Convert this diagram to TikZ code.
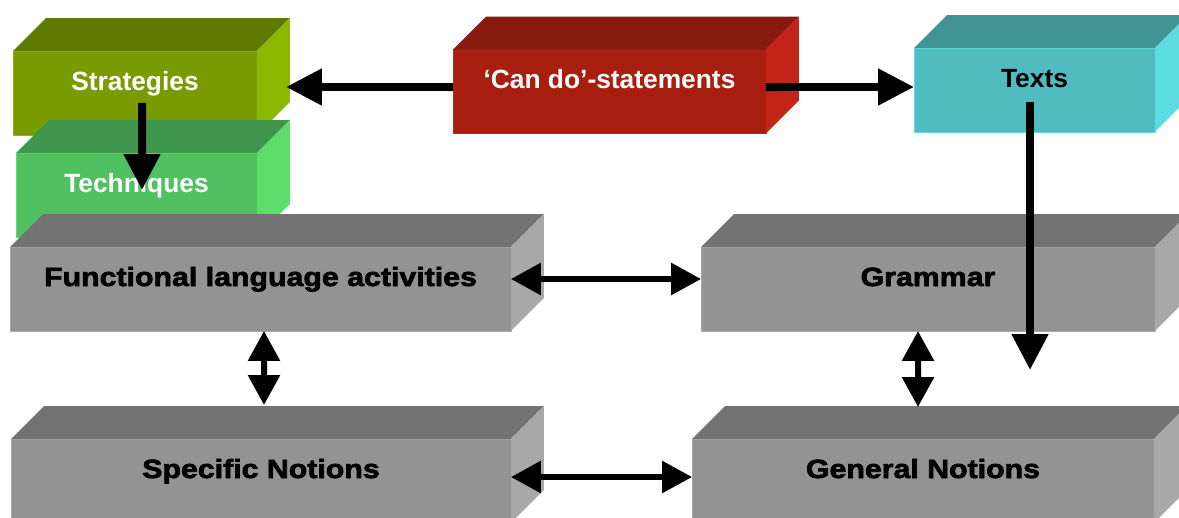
\documentclass[tikz,border=0pt]{standalone}
\usepackage{fontspec}
\setmainfont{Liberation Sans}
\newfontfamily\plainbold{Liberation Sans Bold}
\newfontfamily\heavyfont{Liberation Sans Bold}[FakeBold=2.5,FakeStretch=1.15]
\usetikzlibrary{arrows.meta}

% box colours: front, top, side
\definecolor{stratfront}{RGB}{120,155,0}
\definecolor{strattop}{RGB}{94,122,0}
\definecolor{stratside}{RGB}{140,184,0}
\definecolor{techfront}{RGB}{80,192,96}
\definecolor{techtop}{RGB}{63,149,75}
\definecolor{techside}{RGB}{93,221,108}
\definecolor{canfront}{RGB}{168,30,16}
\definecolor{cantop}{RGB}{134,26,14}
\definecolor{canside}{RGB}{196,36,23}
\definecolor{textfront}{RGB}{80,188,192}
\definecolor{texttop}{RGB}{64,148,148}
\definecolor{textside}{RGB}{92,221,224}
\definecolor{grayfront}{RGB}{147,147,147}
\definecolor{graytop}{RGB}{115,115,115}
\definecolor{grayside}{RGB}{168,168,168}

\tikzset{
	block/.style={rectangle, inner sep=0pt, outer sep=0pt, line width=0.5pt,
		minimum height=1.68cm, text height=0pt, text depth=0.12cm},
	colourblock/.style={block, font=\plainbold\fontsize{15}{15}\selectfont, text=white},
	grayblock/.style={block, fill=grayfront, draw=grayside,
		font=\heavyfont\fontsize{15}{15}\selectfont},
	bigarrow/.style={line width=0.16cm, -{Triangle[length=0.72cm,width=0.7cm]}},
	twoway/.style={line width=0.12cm,
		{Triangle[length=0.6cm,width=0.62cm]}-{Triangle[length=0.6cm,width=0.62cm]}}
}

% top and right face of a box node: #1 node, #2 top colour, #3 side colour
\newcommand{\Faces}[3]{
	\fill[#2] (#1.north west) -- ++(33,-33) -- ([shift={(33,-33)}]#1.north east) -- (#1.north east) -- cycle;
	\fill[#3] (#1.north east) -- ++(33,-33) -- ([shift={(33,-33)}]#1.south east) -- (#1.south east) -- cycle;
}

\begin{document}
\begin{tikzpicture}[x=0.02cm,y=-0.02cm]
	\clip (0,0) rectangle (1179,517);
	\fill[white] (0,0) rectangle (1179,517);

	% top row
	\node[colourblock, fill=stratfront, draw=stratside, minimum width=4.88cm] (strat) at (135,93) {Strategies};
	\Faces{strat}{strattop}{stratside}
	\node[colourblock, fill=techfront, draw=techside, minimum width=4.82cm] (tech) at (136.5,195) {Techniques};
	\Faces{tech}{techtop}{techside}
	\node[colourblock, fill=canfront, draw=canside, minimum width=6.26cm] (cando) at (609.5,91.5) {‘Can do’-statements};
	\Faces{cando}{cantop}{canside}
	\node[colourblock, fill=textfront, draw=textside, minimum width=4.82cm, text=black] (texts) at (1034.5,90) {Texts};
	\Faces{texts}{texttop}{textside}

	% middle row
	\node[grayblock, minimum width=10.02cm] (func) at (260.5,289) {Functional language activities};
	\Faces{func}{graytop}{grayside}
	\node[grayblock, minimum width=9.08cm] (gram) at (928,289) {Grammar};
	\Faces{gram}{graytop}{grayside}

	% bottom row
	\node[grayblock, minimum width=10cm] (spec) at (261,481) {Specific Notions};
	\Faces{spec}{graytop}{grayside}
	\node[grayblock, minimum width=9.24cm] (gen) at (923,481) {General Notions};
	\Faces{gen}{graytop}{grayside}

	\coordinate (gen in) at ([shift={(107,-69)}]gen.north);

	% connectors
	\draw[bigarrow] ([yshift=0.09cm]cando.west) -- ([shift={(29,-6)}]strat.east);
	\draw[bigarrow] ([yshift=0.09cm]cando.east) -- ([yshift=0.06cm]texts.west);
	\draw[bigarrow] ([shift={(7,10)}]strat.center) -- ([shift={(5.5,-5)}]tech.center);
	\draw[bigarrow] ([shift={(-4.5,12)}]texts.center) -- (gen in);

	\draw[twoway] ([yshift=0.2cm]func.east) -- ([yshift=0.2cm]gram.west);
	\draw[twoway] ([xshift=0.07cm]func.south) -- ([shift={(3,-34)}]spec.north);
	\draw[twoway] ([xshift=-0.2cm]gram.south) -- ([shift={(-5,-32)}]gen.north);
	\draw[twoway] ([yshift=0.08cm]spec.east) -- ([yshift=0.08cm]gen.west);
\end{tikzpicture}
\end{document}
